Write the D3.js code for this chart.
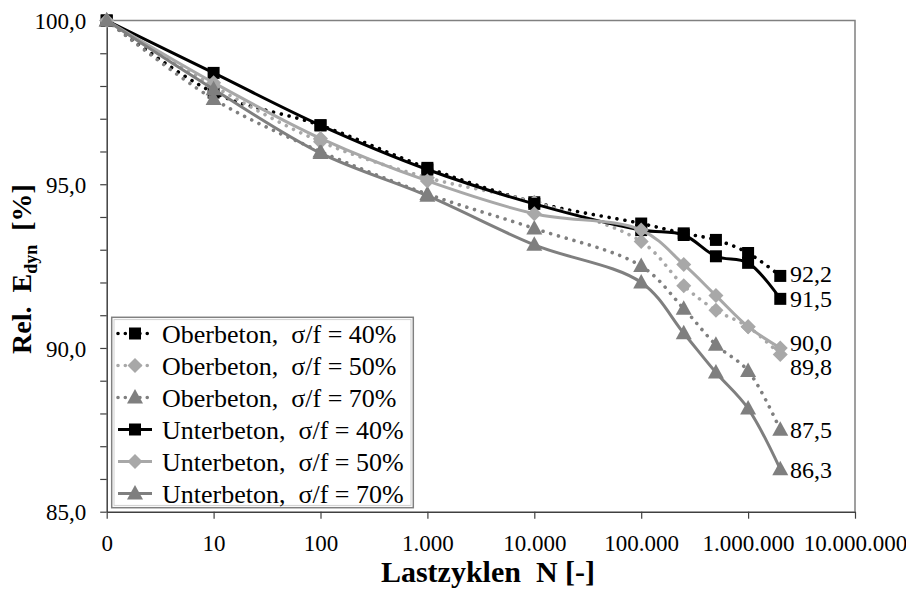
<!DOCTYPE html>
<html>
<head>
<meta charset="utf-8">
<script src="https://cdn.jsdelivr.net/npm/d3@7"></script>
<style>
  html, body { margin: 0; padding: 0; background: #fff; }
  svg text { font-family: "Liberation Serif", "Times New Roman", serif; }
</style>
</head>
<body>
<svg id="chart" width="906" height="589"></svg>
<script>
// Load cycles (N = 1 is shown as "0" on the log axis)
const cycles = [1, 10, 100, 1000, 10000, 100000, 250000, 500000, 1000000, 2000000];

// Relative dynamic modulus E_dyn [%]
const oberbeton40 = [100, 97.8, 96.8, 95.5, 94.45, 93.8, 93.5, 93.3, 92.9, 92.2];
const oberbeton50 = [100, 98.0, 96.3, 95.2, 94.45, 93.25, 91.9, 91.15, 90.65, 89.8];
const oberbeton70 = [100, 97.6, 96.0, 94.7, 93.65, 92.5, 91.2, 90.1, 89.3, 87.5];
const unterbeton40 = [100, 98.4, 96.8, 95.45, 94.4, 93.6, 93.45, 92.8, 92.6, 91.5];
const unterbeton50 = [100, 98.1, 96.4, 95.1, 94.1, 93.6, 92.55, 91.6, 90.65, 90.0];
const unterbeton70 = [100, 97.9, 95.95, 94.65, 93.15, 92.0, 90.45, 89.25, 88.15, 86.3];

const seriesNames = [
  "Oberbeton,  σ/f = 40%", "Oberbeton,  σ/f = 50%", "Oberbeton,  σ/f = 70%",
  "Unterbeton,  σ/f = 40%", "Unterbeton,  σ/f = 50%", "Unterbeton,  σ/f = 70%"
];
const seriesValues = [oberbeton40, oberbeton50, oberbeton70, unterbeton40, unterbeton50, unterbeton70];

const xTickValues = [1, 10, 100, 1000, 10000, 100000, 1000000, 10000000];
const yTickValues = d3.range(85, 101, 1);

// Styling per series
const colors = ["#000000", "#a8a8a8", "#7f7f7f", "#000000", "#a8a8a8", "#7f7f7f"];
const dotted = [true, true, true, false, false, false];
const shapes = ["square", "diamond", "triangle", "square", "diamond", "triangle"];
// vertical nudges of the end-value labels so they don't collide
const labelNudge = [-2, 12, 0, 0, -5, 0];

const svg = d3.select("#chart");

const x = d3.scaleLog().domain([1, 1e7]).range([106.7, 855]);
const y = d3.scaleLinear().domain([85, 100]).range([511.7, 20.5]);

const deLocale = d3.formatLocale({ decimal: ",", thousands: ".", grouping: [3], currency: ["", "€"] });
const fmtInt = deLocale.format(",d");
const fmtY = deLocale.format(".1f");

// plot frame (top and right)
svg.append("path")
  .attr("d", `M${x(1)},${y(100)}H${x(1e7)}V${y(85)}`)
  .attr("fill", "none").attr("stroke", "#808080").attr("stroke-width", 1.5);

// y axis
const yAxis = d3.axisLeft(y)
  .tickValues(yTickValues)
  .tickSize(6.5)
  .tickSizeOuter(0)
  .tickFormat(v => v % 5 === 0 ? fmtY(v) : "");
const gy = svg.append("g").attr("transform", `translate(${x(1)},0)`).call(yAxis);
gy.attr("font-family", null);
gy.select(".domain").attr("stroke", "#404040").attr("stroke-width", 1.5);
gy.selectAll(".tick line").attr("stroke", "#404040").attr("stroke-width", 1.2);
gy.selectAll(".tick text")
  .attr("x", -20.5)
  .attr("dy", "0.36em")
  .attr("fill", "#000")
  .style("font-size", "23px");

// x axis
const xAxis = d3.axisBottom(x)
  .tickValues(xTickValues)
  .tickSize(7)
  .tickSizeOuter(0)
  .tickFormat(v => v === 1 ? "0" : fmtInt(v));
const gx = svg.append("g").attr("transform", `translate(0,${y(85)})`).call(xAxis);
gx.attr("font-family", null);
gx.select(".domain").attr("stroke", "#404040").attr("stroke-width", 1.5);
gx.selectAll(".tick line").attr("stroke", "#404040").attr("stroke-width", 1.2);
gx.selectAll(".tick text")
  .attr("y", 23)
  .attr("fill", "#000")
  .style("font-size", "23px");

// axis titles
svg.append("text")
  .attr("x", 488).attr("y", 582)
  .attr("text-anchor", "middle")
  .style("font-weight", "bold").style("font-size", "30px")
  .style("white-space", "pre")
  .text("Lastzyklen  N [-]");

const yTitle = svg.append("text")
  .attr("transform", "translate(31,269) rotate(-90)")
  .attr("text-anchor", "middle")
  .style("font-weight", "bold").style("font-size", "28px")
  .style("white-space", "pre");
yTitle.append("tspan").text("Rel.  E");
yTitle.append("tspan").attr("dy", 6).style("font-size", "18px").text("dyn");
yTitle.append("tspan").attr("dy", -6).text("  [%]");

// marker paths centred on 0,0
function markerPath(shape) {
  if (shape === "square") return "M-6,-6H6V6H-6Z";
  if (shape === "diamond") return "M0,-7.5L7.5,0L0,7.5L-7.5,0Z";
  return "M0,-8.5L8,6L-8,6Z";
}

const line = d3.line()
  .x((d, i) => x(cycles[i]))
  .y(d => y(d))
  .curve(d3.curveCatmullRom.alpha(0.5));

const plot = svg.append("g");
seriesValues.forEach((vals, s) => {
  const g = plot.append("g");
  g.append("path")
    .datum(vals)
    .attr("d", line)
    .attr("fill", "none")
    .attr("stroke", colors[s])
    .attr("stroke-width", dotted[s] ? 3.6 : 3)
    .attr("stroke-linecap", dotted[s] ? "round" : "butt")
    .attr("stroke-dasharray", dotted[s] ? "0.01 8" : null);
  g.selectAll("path.mk")
    .data(vals)
    .join("path")
    .attr("class", "mk")
    .attr("transform", (d, i) => `translate(${x(cycles[i])},${y(d)})`)
    .attr("d", markerPath(shapes[s]))
    .attr("fill", colors[s]);
});

// end-value labels
seriesValues.forEach((vals, s) => {
  const last = vals[vals.length - 1];
  svg.append("text")
    .attr("x", 790)
    .attr("y", y(last) + labelNudge[s])
    .attr("dy", "0.35em")
    .style("font-size", "24px")
    .text(fmtY(last));
});

// legend
const lg = svg.append("g");
lg.append("rect")
  .attr("x", 111.7).attr("y", 317.3).attr("width", 301.6).attr("height", 190.4)
  .attr("fill", "#fff").attr("stroke", "#808080").attr("stroke-width", 1.5);
lg.append("rect")
  .attr("x", 114).attr("y", 319.6).attr("width", 297).attr("height", 185.8)
  .attr("fill", "none").attr("stroke", "#d0d0d0").attr("stroke-width", 1);
seriesNames.forEach((name, s) => {
  const cy = 333.5 + s * 32;
  lg.append("line")
    .attr("x1", 118).attr("x2", 152).attr("y1", cy).attr("y2", cy)
    .attr("stroke", colors[s])
    .attr("stroke-width", dotted[s] ? 3.6 : 3)
    .attr("stroke-linecap", dotted[s] ? "round" : "butt")
    .attr("stroke-dasharray", dotted[s] ? "0.01 7.3" : null);
  lg.append("path")
    .attr("transform", `translate(135,${cy})`)
    .attr("d", markerPath(shapes[s]))
    .attr("fill", colors[s]);
  lg.append("text")
    .attr("x", 162).attr("y", cy).attr("dy", "0.35em")
    .style("font-size", "26px")
    .style("white-space", "pre")
    .text(name);
});
</script>
</body>
</html>
